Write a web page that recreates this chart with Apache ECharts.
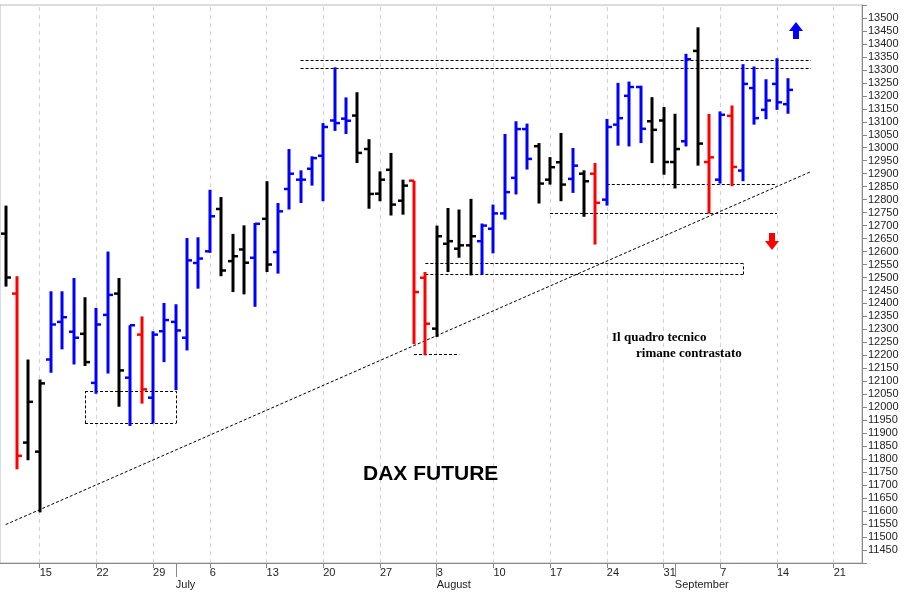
<!DOCTYPE html>
<html><head><meta charset="utf-8">
<script src="https://cdn.jsdelivr.net/npm/echarts@6/dist/echarts.min.js"></script>
<style>html,body{margin:0;padding:0;background:#fff}#c{width:918px;height:592px}</style>
</head><body><div id="c"></div>
<script>
const dates = ["06-10","06-11","06-12","06-15","06-16","06-17","06-18","06-19","06-22","06-23","06-24","06-25","06-26","06-29","06-30",
"07-01","07-02","07-03","07-06","07-07","07-08","07-09","07-10","07-13","07-14","07-15","07-16","07-17","07-20","07-21","07-22","07-23","07-24","07-27","07-28","07-29","07-30","07-31",
"08-03","08-04","08-05","08-06","08-07","08-10","08-11","08-12","08-13","08-14","08-17","08-18","08-19","08-20","08-21","08-24","08-25","08-26","08-27","08-28","08-31",
"09-01","09-02","09-03","09-04","09-07","09-08","09-09","09-10","09-11","09-14","09-15","09-16","09-17","09-18","09-21","09-22","09-23"];
const opens  = [12669,12438,11864,11829,12184,12329,12291,12283,12094,12356,12438,12114,12280,12037,12293,12329,12268,12556,12601,12764,12563,12608,12576,12726,12598,12841,12877,12919,12969,13105,13112,13124,12995,12823,12915,12796,12873,12499,12303,12630,12611,12624,12640,12688,12747,12884,13072,13006,12877,12944,12880,12900,12900,12800,13089,13200,13234,13102,13105,12945,13025,13373,12945,12877,13123,12912,13230,13146,13246,13168];
const highs  = [12777,12505,12184,12107,12447,12447,12498,12424,12383,12600,12498,12316,12350,12293,12402,12397,12652,12655,12838,12810,12668,12701,12710,12871,12787,12995,12913,12967,13095,13310,13194,13214,13033,12909,12980,12877,12873,12521,12700,12768,12762,12803,12708,12781,13053,13102,13093,13018,12964,13057,12999,12913,12941,13111,13250,13255,13239,13195,13157,13131,13362,13464,13130,13140,13163,13322,13313,13264,13345,13268];
const lows   = [12465,11761,11796,11595,12133,12223,12165,12159,12052,12130,12002,11928,12014,11938,12174,12066,12219,12457,12595,12505,12444,12435,12387,12521,12515,12762,12787,12854,12794,13065,13053,12941,12765,12794,12739,12742,12243,12200,12271,12521,12576,12508,12512,12593,12723,12820,12916,12785,12858,12794,12826,12734,12627,12777,13008,13005,13018,12941,12896,12843,13005,12931,12746,12862,12852,12871,13089,13110,13146,13131];
const closes = [12500,11813,12021,12092,12319,12347,12268,12174,12319,12433,12142,12316,12069,12280,12336,12296,12566,12573,12736,12527,12582,12557,12707,12550,12755,12900,12877,12960,13080,13095,13104,12980,12822,12877,12781,12854,12444,12322,12659,12640,12624,12659,12700,12747,12829,13072,12957,12862,12925,12858,12931,12871,12788,13080,13114,13234,13073,13069,12945,12995,13341,13016,12963,13127,12926,13246,13114,13182,13175,13223];
const colorCodes = "krkkbbbkbbkbrbbbbbbkkkbkbbbbbbbkkkkkrrkkkkbbbbbkkkbkrbbbbkkkbkrbrbbbbb";
const yTicksMin = 11450, yTicksMax = 13500;

const palette = {k:'#000000', r:'#ff0000', b:'#0000ff'};
const cat = dates.map(d => '2020-' + d);
const data = opens.map((o,i) => [i, o, closes[i], lows[i], highs[i]]);

function isMonday(v){ return new Date(v+'T00:00:00Z').getUTCDay()===1; }
function mondayLabel(v){ return isMonday(v) ? String(new Date(v+'T00:00:00Z').getUTCDate()) : ''; }
const monthNames = ['January','February','March','April','May','June','July','August','September','October','November','December'];
function isMonthStart(i){ return i>0 && cat[i].slice(5,7)!==cat[i-1].slice(5,7); }

const ml = (x1,y1,x2,y2) => [{coord:[x1,y1]},{coord:[x2,y2]}];
const gridLines = cat.filter(isMonday).map(v => ({xAxis:v}));

const chart = echarts.init(document.getElementById('c'));
chart.setOption({
  animation:false,
  backgroundColor:'#ffffff',
  grid:{left:0,right:56,top:5,bottom:29,show:true,borderColor:'#b8b8c8',borderWidth:1},
  xAxis:[{
    type:'category', data:cat, boundaryGap:true,
    axisLine:{lineStyle:{color:'#888'}},
    axisTick:{show:true,alignWithLabel:true,interval:(i,v)=>isMonday(v),lineStyle:{color:'#888'}},
    axisLabel:{interval:0,formatter:mondayLabel,color:'#222',fontSize:11,fontFamily:'Arial, Liberation Sans',align:'left',margin:4},
    splitLine:{show:false}
  },{
    type:'category', data:cat, position:'bottom', offset:14, boundaryGap:true,
    axisLine:{show:false},
    axisTick:{show:true,alignWithLabel:true,length:-14,interval:(i)=>isMonthStart(i),lineStyle:{color:'#888'}},
    axisLabel:{interval:(i)=>isMonthStart(i),formatter:(v,i)=>isMonthStart(i)?monthNames[+v.slice(5,7)-1]:'',color:'#222',fontSize:11,fontFamily:'Arial, Liberation Sans',align:'left',margin:2,padding:[0,0,0,0]}
  }],
  yAxis:{type:'value',position:'right',min:11400,max:13550,interval:50,
    axisLine:{show:true,lineStyle:{color:'#888'}},axisTick:{show:true,lineStyle:{color:'#888'}},
    splitLine:{show:false},
    axisLabel:{formatter:v=>(v>=yTicksMin&&v<=yTicksMax)?String(v):'',color:'#222',fontSize:11,fontFamily:'Arial, Liberation Sans',margin:6}},
  series:[{
    type:'line', data:[], z:0, zlevel:0,
    markLine:{silent:true,symbol:'none',label:{show:false},lineStyle:{color:'#d0d0ee',type:[4,4],width:1},data:gridLines}
  },{
    type:'custom', xAxisIndex:0, z:3, zlevel:1,
    renderItem:(params,api)=>{
      const i=api.value(0);
      const pH=api.coord([i,api.value(4)]), pL=api.coord([i,api.value(3)]);
      const pO=api.coord([i,api.value(1)]), pC=api.coord([i,api.value(2)]);
      const x=Math.round(pH[0]);
      const col=palette[colorCodes[i]];
      return {type:'group',children:[
        {type:'line',shape:{x1:x,y1:pH[1],x2:x,y2:pL[1]},style:{stroke:col,lineWidth:3}},
        {type:'line',shape:{x1:x-5,y1:pO[1],x2:x,y2:pO[1]},style:{stroke:col,lineWidth:2.5}},
        {type:'line',shape:{x1:x,y1:pC[1],x2:x+5,y2:pC[1]},style:{stroke:col,lineWidth:2.5}}
      ]};
    },
    data:data,
    markLine:{silent:true,symbol:'none',label:{show:false},lineStyle:{color:'#000',type:[3,2],width:1},
      data:[
        ml('2020-07-16',13338,'2020-09-17',13338),
        ml('2020-07-16',13308,'2020-09-17',13308),
        ml('2020-08-24',12858,'2020-09-14',12858),
        ml('2020-08-17',12746,'2020-09-14',12746),
        ml('2020-07-31',12554,'2020-09-09',12554),
        ml('2020-07-31',12512,'2020-09-09',12512),
        ml('2020-07-30',12204,'2020-08-05',12204),
        ml('2020-07-30',12512,'2020-07-30',12554),
        ml('2020-09-09',12512,'2020-09-09',12554),
        ml('2020-06-19',12062,'2020-07-01',12062),
        ml('2020-06-19',11938,'2020-07-01',11938),
        ml('2020-06-19',11938,'2020-06-19',12062),
        ml('2020-07-01',11938,'2020-07-01',12062),
        ml('2020-06-10',11548,'2020-09-17',12908)
      ]}
  }],
  graphic:[
    {type:'text',left:363,top:464,zlevel:1,style:{text:'DAX FUTURE',font:'bold 21px Arial, Liberation Sans',fill:'#000'}},
    {type:'text',left:612,top:331,zlevel:1,style:{text:'Il quadro tecnico',font:'bold 13px "Liberation Serif", serif',fill:'#000'}},
    {type:'text',left:636,top:347,zlevel:1,style:{text:'rimane contrastato',font:'bold 13px "Liberation Serif", serif',fill:'#000'}},
    {type:'polygon',zlevel:1,shape:{points:[[796,22],[789,31],[793,31],[793,39],[799,39],[799,31],[803,31]]},style:{fill:'#0000ff'}},
    {type:'polygon',zlevel:1,shape:{points:[[772,250],[765,241],[769,241],[769,233],[775,233],[775,241],[779,241]]},style:{fill:'#ff0000'}}
  ]
});
</script></body></html>
